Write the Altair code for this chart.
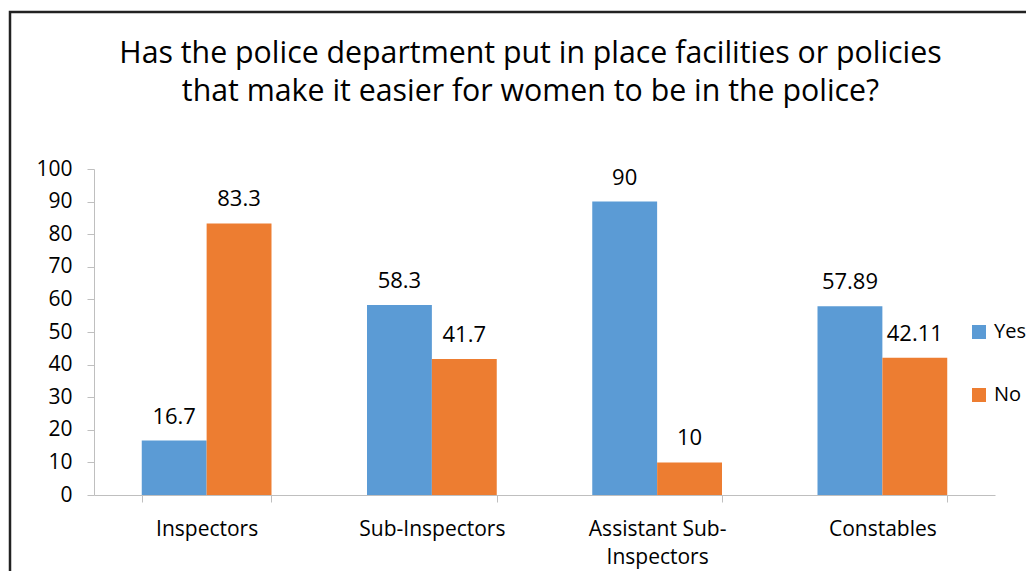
import altair as alt
import pandas as pd

categories = ["Inspectors", "Sub-Inspectors", "Assistant Sub-Inspectors", "Constables"]
series = ["Yes", "No"]
yes_values = [16.7, 58.3, 90, 57.89]
no_values = [83.3, 41.7, 10, 42.11]
colors = ["#5B9BD5", "#ED7D31"]
y_ticks = list(range(0, 101, 10))
title_lines = ["Has the police department put in place facilities or policies",
               "that make it easier for women to be in the police?"]

rows = []
for c, y, n in zip(categories, yes_values, no_values):
    rows.append({"category": c, "series": "Yes", "value": y})
    rows.append({"category": c, "series": "No", "value": n})
df = pd.DataFrame(rows)

FONT = "Open Sans"

base = alt.Chart(df).encode(
    x=alt.X("category:N", sort=categories,
            scale=alt.Scale(paddingInner=0.424, paddingOuter=0.212),
            axis=alt.Axis(title=None, labelAngle=0, tickBand="extent",
                          labelExpr="datum.label == 'Assistant Sub-Inspectors' ? ['Assistant Sub-', 'Inspectors'] : datum.label",
                          labelLineHeight=28, labelPadding=16)),
    xOffset=alt.XOffset("series:N", sort=series, scale=alt.Scale(paddingInner=0, paddingOuter=0)),
    y=alt.Y("value:Q", scale=alt.Scale(domain=[0, 100], nice=False),
            axis=alt.Axis(title=None, values=y_ticks, labelPadding=15, grid=False)),
)

bars = base.mark_bar().encode(
    color=alt.Color("series:N", sort=series,
                    scale=alt.Scale(domain=series, range=colors),
                    legend=alt.Legend(title=None, orient="none", legendX=875, legendY=153,
                                      symbolType="square", symbolSize=196, symbolStrokeWidth=0,
                                      labelFontSize=20, labelFont=FONT, labelColor="#000",
                                      rowPadding=43, labelOffset=5))
)

labels = base.mark_text(baseline="alphabetic", dy=-17, fontSize=22, font=FONT, color="#000").encode(
    text=alt.Text("value:Q")
)

frame = alt.Chart(pd.DataFrame({"a": [0]})).mark_rect(
    filled=False, stroke="#222", strokeWidth=2.5
).encode(
    x=alt.value(-84), x2=alt.value(1100), y=alt.value(-157), y2=alt.value(700)
)

chart = alt.layer(frame, bars, labels).properties(
    width=901, height=326,
    title=alt.TitleParams(text=title_lines, fontSize=30.3, font=FONT, fontWeight="normal",
                          color="#000", anchor="middle", frame="group", dx=-14, offset=-97,
                          lineHeight=38),
    autosize=alt.AutoSizeParams(type="none"),
    padding={"left": 86, "top": 161, "right": 31, "bottom": 76},
).configure_view(stroke=None).configure_axis(
    labelFont=FONT, labelFontSize=21, labelColor="#000",
    domainColor="#BFBFBF", tickColor="#BFBFBF", tickSize=7, domainWidth=1, tickWidth=1
)

chart.save("out.html", embed_options={"renderer": "svg", "actions": False})
